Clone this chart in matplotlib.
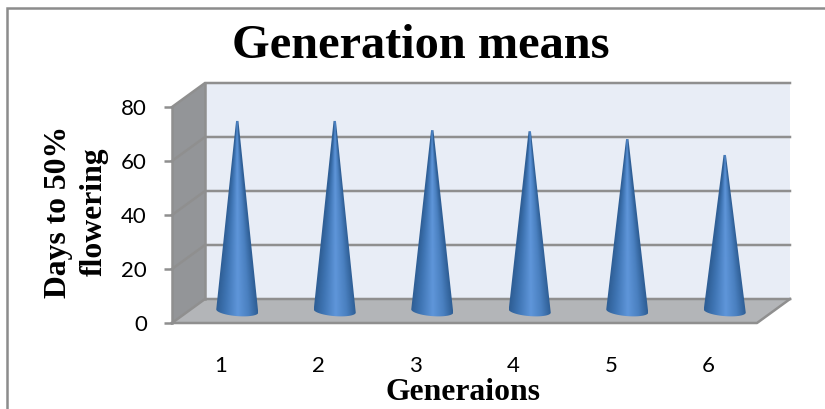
import numpy as np
import matplotlib
matplotlib.use("Agg")
import matplotlib.pyplot as plt
from matplotlib.patches import Polygon, Rectangle
from matplotlib.colors import LinearSegmentedColormap

generations = [1, 2, 3, 4, 5, 6]
means = [70.4, 70.4, 67.0, 66.6, 63.7, 57.8]
y_ticks = [0, 20, 40, 60, 80]

W, H = 825, 409
fig = plt.figure(figsize=(W / 100, H / 100), dpi=100)

# the front plane of the fake 3d box, in pixels
left, right, bottom, top = 172, 757, 323, 107
ax = fig.add_axes([left / W, 1 - bottom / H, (right - left) / W, (bottom - top) / H])
ax.set_xlim(0.5, 6.5)
ax.set_ylim(0, 80)
ax.patch.set_visible(False)
for s in ax.spines.values():
    s.set_visible(False)

# depth offset of the back wall, in data units
dx = 33 / 97.5
dy = 24 / 2.7
line_c = "#8f8f8f"
x0, x1 = 0.5, 6.5

ax.add_patch(Polygon([(x0 + dx, dy), (x1 + dx, dy), (x1 + dx, 80 + dy), (x0 + dx, 80 + dy)],
                     fc="#e8edf6", ec="none", clip_on=False, zorder=1))
ax.add_patch(Polygon([(x0, 0), (x0 + dx, dy), (x0 + dx, 80 + dy), (x0, 80)],
                     fc="#939598", ec="none", clip_on=False, zorder=1))
ax.add_patch(Polygon([(x0, 0), (x1, 0), (x1 + dx, dy), (x0 + dx, dy)],
                     fc="#b3b5b8", ec="none", clip_on=False, zorder=1))

# gridlines run along the back wall and down the side wall
for v in y_ticks:
    ax.plot([x0, x0 + dx, x1 + dx], [v, v + dy, v + dy], color=line_c, lw=1.8,
            clip_on=False, zorder=2, solid_joinstyle="miter")
ax.plot([x0, x1, x1 + dx], [0, 0, dy], color=line_c, lw=1.8, clip_on=False, zorder=2)
ax.plot([x0, x0], [0, 80], color=line_c, lw=1.8, clip_on=False, zorder=2)
ax.plot([x0 + dx, x0 + dx], [dy, 80 + dy], color=line_c, lw=1.8, clip_on=False, zorder=2)

# cones, the shading narrows with the cone so the dark edges follow the outline
cmap = LinearSegmentedColormap.from_list(
    "cone", [(0, "#2f5f96"), (0.22, "#3f75b4"), (0.52, "#5f96da"), (0.78, "#4a80c0"), (1, "#2f5f96")])
half = 21 / 97.5
for g, m in zip(generations, means):
    cx = g + dx / 2
    base = dy / 2
    t = np.linspace(np.pi, 2 * np.pi, 30)
    arc_x = cx + half * np.cos(t)
    arc_y = base + 1.9 * np.sin(t) - 0.6 * np.cos(t)
    pts = [(cx - 0.012, base + m), (cx + 0.012, base + m)]
    pts = pts + list(zip(arc_x[::-1], arc_y[::-1]))
    clip = Polygon(pts, transform=ax.transData, fc="none", ec="none")
    ax.add_patch(clip)
    clip.set_clip_on(False)
    # row 0 is the apex
    frac = np.linspace(0.0, 1.03, 200).reshape(-1, 1)
    u = np.linspace(-1, 1, 100).reshape(1, -1)
    width = np.maximum(frac, 0.055)
    shade = np.clip(u / width, -1, 1) * 0.5 + 0.5
    im = ax.imshow(shade, extent=[cx - half, cx + half, base - 3, base + m], cmap=cmap,
                   aspect="auto", zorder=3, interpolation="bilinear", vmin=0, vmax=1)
    im.set_clip_path(clip)

ax.set_xlim(0.5, 6.5)
ax.set_ylim(0, 80)

ax.set_xticks(generations)
ax.set_xticklabels([str(g) for g in generations], fontname="Lato", fontsize=16)
ax.set_yticks(y_ticks)
ax.set_yticklabels([str(v) for v in y_ticks], fontname="Lato", fontsize=16)
ax.tick_params(axis="x", length=0, pad=24)
ax.tick_params(axis="y", length=6, width=1.8, color=line_c, pad=12)

serif = "Liberation Serif"
fig.text(421 / W, 1 - 46 / H, "Generation means", fontname=serif, fontweight="bold",
         fontsize=34.8, ha="center", va="center")
fig.text(76 / W, 1 - 212 / H, "Days to 50%\nflowering", fontname=serif, fontweight="bold",
         fontsize=22.8, ha="center", va="center", rotation=90, linespacing=1.3)
fig.text(463 / W, 1 - 393 / H, "Generaions", fontname=serif, fontweight="bold",
         fontsize=22.8, ha="center", va="center")

# outer chart border, runs off the image at the bottom
fig.add_artist(Rectangle((7 / W, -0.05), (W + 20) / W, 1.05 - 8 / H, transform=fig.transFigure,
                         fc="none", ec="#8c8c8c", lw=1.8))

fig.savefig("out.png", dpi=100)
